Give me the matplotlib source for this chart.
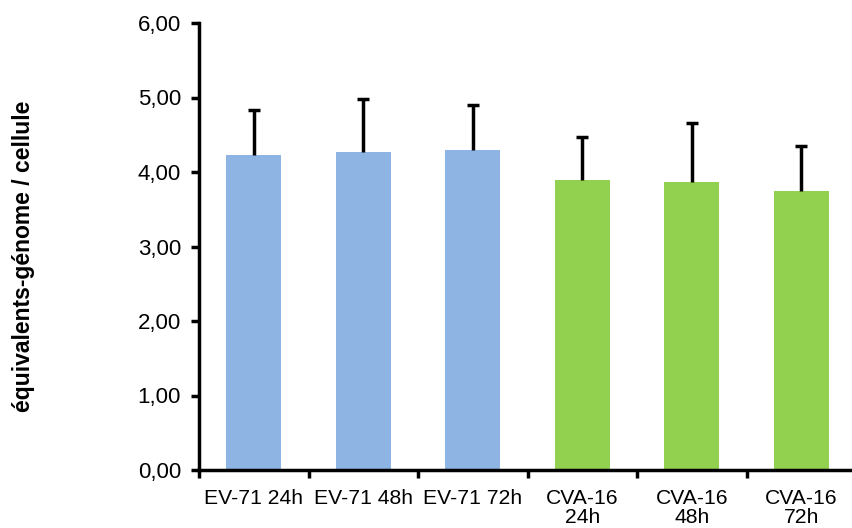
import matplotlib.pyplot as plt
import numpy as np
from matplotlib.ticker import FixedLocator

# Data
labels = ['EV-71 24h', 'EV-71 48h', 'EV-71 72h', 'CVA-16\n24h', 'CVA-16\n48h', 'CVA-16\n72h']
values = [4.23, 4.27, 4.29, 3.89, 3.86, 3.75]
errors = [0.60, 0.71, 0.61, 0.58, 0.80, 0.60]
colors = ['#8EB4E3', '#8EB4E3', '#8EB4E3', '#92D050', '#92D050', '#92D050']
yticks = [0, 1, 2, 3, 4, 5, 6]
ytick_labels = ['0,00', '1,00', '2,00', '3,00', '4,00', '5,00', '6,00']

plt.rcParams['font.family'] = ['Liberation Sans', 'DejaVu Sans']

fig = plt.figure(figsize=(8.52, 5.28), dpi=100)
ax = fig.add_axes([199 / 852, 58 / 528, 657 / 852, 447 / 528])

x = np.arange(len(labels))
ax.bar(x, values, width=0.5, color=colors, zorder=2)
# upper error bars only
eb = ax.errorbar(x, values, yerr=[np.zeros(len(errors)), errors], fmt='none',
                 ecolor='black', elinewidth=2.5, capsize=4.5, capthick=2.5, zorder=3)
eb[1][0].set_visible(False)

ax.set_xlim(-0.5, len(labels) - 0.5)
ax.set_ylim(0, 6)
ax.set_yticks(yticks)
ax.set_yticklabels(ytick_labels, fontsize=16)
ax.set_xticks(x)
ax.set_xticklabels(labels, fontsize=15.2, linespacing=1.0)
ax.tick_params(axis='x', which='major', length=0, pad=14)
ax.xaxis.set_minor_locator(FixedLocator(np.arange(-0.5, len(labels), 1.0)))
ax.tick_params(axis='x', which='minor', length=6, width=2.5, direction='out')
ax.tick_params(axis='y', length=6, width=2.5, direction='out', pad=7)

ax.spines['top'].set_visible(False)
ax.spines['right'].set_visible(False)
ax.spines['left'].set_linewidth(2.5)
ax.spines['bottom'].set_linewidth(2.5)

ax.set_ylabel('équivalents-génome / cellule', fontsize=16.5, fontweight='bold')
ax.yaxis.set_label_coords(-164 / 657, 0.477)

fig.savefig('out.png', dpi=100)
